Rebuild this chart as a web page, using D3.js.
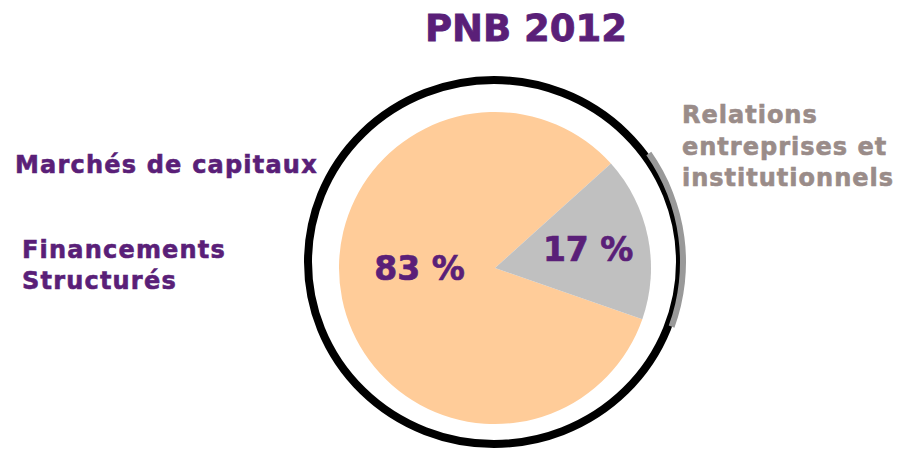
<!DOCTYPE html>
<html>
<head>
<meta charset="utf-8">
<script src="https://cdn.jsdelivr.net/npm/d3@7"></script>
<style>
  body { margin: 0; background: #fff; }
  svg { display: block; font-family: "DejaVu Sans", Verdana, sans-serif; font-weight: bold; }
</style>
</head>
<body>
<svg></svg>
<script>
var width = 897;
var height = 452;

// data
var categories = ["Marchés de capitaux / Financements Structurés", "Relations entreprises et institutionnels"];
var shares = [83, 17];
var shareLabels = ["83 %", "17 %"];
var colors = ["#ffcc99", "#c0c0c0"];
var title = "PNB 2012";

var purple = "#5a1f78";
var taupe = "#9a8c89";

var svg = d3.select("svg").attr("width", width).attr("height", height);

// title
svg.append("text")
  .attr("x", 526)
  .attr("y", 41)
  .attr("text-anchor", "middle")
  .attr("fill", purple)
  .attr("stroke", purple)
  .attr("stroke-width", 0.8)
  .style("font-size", "37px")
  .text(title);

// outer black ring
var ring = { cx: 494, cy: 262, rx: 186, ry: 182 };
svg.append("ellipse")
  .attr("cx", ring.cx).attr("cy", ring.cy)
  .attr("rx", ring.rx).attr("ry", ring.ry)
  .attr("fill", "none")
  .attr("stroke", "#000")
  .attr("stroke-width", 8);

// gray band on the ring next to the small slice
var deg = Math.PI / 180;
svg.append("path")
  .attr("transform", "translate(" + ring.cx + "," + ring.cy + ")")
  .attr("fill", "#999999")
  .attr("d", d3.arc()({ innerRadius: 186, outerRadius: 192, startAngle: 55 * deg, endAngle: 110 * deg }));

// pie
var cx = 495, cy = 268, r = 156;
var pie = d3.pie().sort(null).startAngle(109.2 * deg).endAngle(469.2 * deg);
var arcs = pie(shares);
var arc = d3.arc().innerRadius(0).outerRadius(r);

var g = svg.append("g").attr("transform", "translate(" + cx + "," + cy + ")");
g.selectAll("path.slice")
  .data(arcs)
  .enter().append("path")
  .attr("class", "slice")
  .attr("fill", function (d, i) { return colors[i]; })
  .attr("d", arc);

// percentage labels
var labelRadius = [77, 95];
g.selectAll("text.pct")
  .data(arcs)
  .enter().append("text")
  .attr("class", "pct")
  .attr("text-anchor", "middle")
  .attr("fill", purple)
  .attr("stroke", purple)
  .attr("stroke-width", 0.7)
  .style("font-size", "33px")
  .attr("transform", function (d, i) {
    var c = d3.arc().innerRadius(labelRadius[i]).outerRadius(labelRadius[i]).centroid(d);
    var ny = i == 0 ? -15 : 0;
    return "translate(" + c[0] + "," + (c[1] + ny + 12) + ")";
  })
  .text(function (d, i) { return shareLabels[i]; });

// category labels
var left = svg.append("g")
  .attr("fill", purple)
  .attr("stroke", purple)
  .attr("stroke-width", 0.6)
  .style("font-size", "24px")
  .style("letter-spacing", "1.2px");
left.append("text").attr("x", 15).attr("y", 173).text("Marchés de capitaux");
var fin = left.append("text").attr("x", 22).attr("y", 258);
fin.append("tspan").attr("x", 22).text("Financements");
fin.append("tspan").attr("x", 22).attr("dy", 31).text("Structurés");

var right = svg.append("text")
  .attr("fill", taupe)
  .attr("stroke", taupe)
  .attr("stroke-width", 0.6)
  .style("font-size", "24px")
  .style("letter-spacing", "1px")
  .attr("y", 123);
["Relations", "entreprises et", "institutionnels"].forEach(function (t, i) {
  right.append("tspan").attr("x", 682).attr("dy", i ? 31.5 : 0).text(t);
});
</script>
</body>
</html>
